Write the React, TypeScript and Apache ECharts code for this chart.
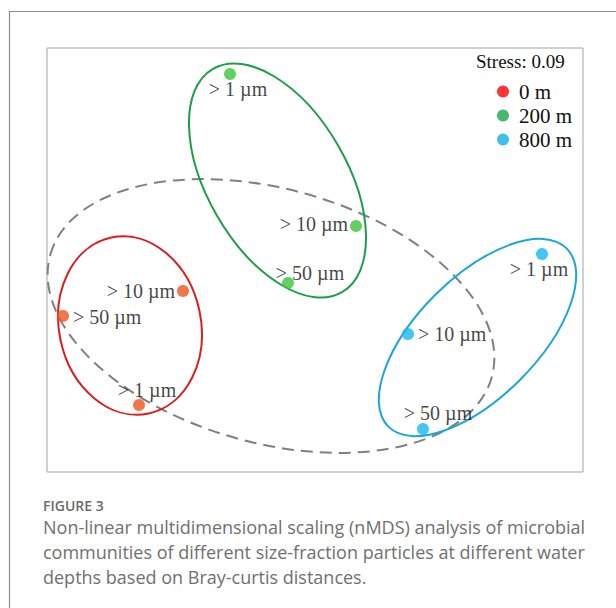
import React, { useEffect, useRef } from "react";
import * as echarts from "echarts";

const SIZE_LABELS = ["> 1 µm", "> 10 µm", "> 50 µm"];
const DEPTHS = ["0 m", "200 m", "800 m"];
// nMDS coordinates [NMDS1, NMDS2] for > 1, > 10, > 50 µm
const DEPTH_0M = [[-0.88, -0.725], [-0.66, -0.155], [-1.26, -0.28]];
const DEPTH_200M = [[-0.425, 0.93], [0.205, 0.17], [-0.135, -0.115]];
const DEPTH_800M = [[1.135, 0.03], [0.465, -0.37], [0.54, -0.845]];
// ellipses: [centerX, centerY, semiMajor, semiMinor, angleDeg]
const ELLIPSE_0M = [-0.925, -0.3275, 0.45, 0.355, -78];
const ELLIPSE_200M = [-0.1875, 0.3975, 0.645, 0.35, -60];
const ELLIPSE_800M = [0.8125, -0.3875, 0.63, 0.3, 45];
const ELLIPSE_ALL = [-0.22, -0.28, 1.145, 0.635, -15.5];
const STRESS = "Stress: 0.09";
const CAPTION_TITLE = "FIGURE 3";
const CAPTION_LINES = [
  "Non-linear multidimensional scaling (nMDS) analysis of microbial",
  "communities of different size-fraction particles at different water",
  "depths based on Bray-curtis distances.",
];

const SERIF = "'Liberation Serif', 'Times New Roman', serif";
const LEGEND_COLORS = ["#ff0000", "#1aa64e", "#12aee8"];
const DOT_COLORS = ["#f0521e", "#3cc43c", "#16b6ee"];
const ELLIPSE_COLORS = ["#d91f1f", "#1e9e4a", "#1ba6da"];

type LabelPos = { position: string; offset?: number[]; distance?: number };
const LABEL_POS: LabelPos[][] = [
  [
    { position: "top", offset: [8, 0], distance: -1 },
    { position: "left", distance: 2, offset: [0, 0] },
    { position: "right", distance: 4, offset: [0, 1] },
  ],
  [
    { position: "bottom", offset: [8, 0], distance: -1 },
    { position: "left", distance: 2, offset: [0, -2] },
    { position: "top", offset: [22, 0], distance: -6 },
  ],
  [
    { position: "bottom", offset: [-3, 0], distance: -1 },
    { position: "right", distance: 4, offset: [0, 0] },
    { position: "top", offset: [15, 0], distance: 0 },
  ],
];

export default function App() {
  const ref = useRef<HTMLDivElement>(null);
  useEffect(() => {
    if (!ref.current) return;
    const chart = echarts.init(ref.current, null, { renderer: "svg" });
    const groups = [DEPTH_0M, DEPTH_200M, DEPTH_800M];
    const ellipses = [ELLIPSE_0M, ELLIPSE_200M, ELLIPSE_800M];

    const ellipseSeries = (e: number[], color: string, dashed: boolean) => ({
      type: "custom",
      silent: true,
      z: 1,
      data: [e],
      renderItem: (_p: any, api: any) => {
        const c = api.coord([api.value(0), api.value(1)]);
        const s = api.size([api.value(2), api.value(3)]);
        return {
          type: "ellipse",
          x: c[0],
          y: c[1],
          rotation: (api.value(4) * Math.PI) / 180,
          shape: { cx: 0, cy: 0, rx: s[0], ry: s[1] },
          style: {
            fill: "none",
            stroke: color,
            lineWidth: 2,
            lineDash: dashed ? [12, 7] : null,
          },
        };
      },
    });

    const series: any[] = [ellipseSeries(ELLIPSE_ALL, "#808080", true)];
    ellipses.forEach((e, i) => series.push(ellipseSeries(e, ELLIPSE_COLORS[i], false)));
    groups.forEach((g, i) => {
      series.push({
        type: "scatter",
        name: DEPTHS[i],
        z: 3,
        symbolSize: 12,
        itemStyle: { color: LEGEND_COLORS[i] },
        data: g.map((v, j) => ({
          value: v,
          name: SIZE_LABELS[j],
          itemStyle: { color: DOT_COLORS[i] },
          label: {
            show: true,
            formatter: SIZE_LABELS[j],
            position: LABEL_POS[i][j].position,
            offset: LABEL_POS[i][j].offset || [0, 0],
            distance: LABEL_POS[i][j].distance ?? 5,
            fontFamily: SERIF,
            fontSize: 20,
            color: "#111",
          },
        })),
      });
    });

    chart.setOption({
      animation: false,
      backgroundColor: "#fff",
      grid: {
        left: 47,
        top: 48,
        width: 536,
        height: 424,
        show: true,
        borderColor: "#a3a3a3",
        borderWidth: 1,
        backgroundColor: "transparent",
      },
      xAxis: { type: "value", min: -1.34, max: 1.34, show: false },
      yAxis: { type: "value", min: -1.06, max: 1.06, show: false },
      title: {
        text: STRESS,
        left: 476,
        top: 52,
        padding: 0,
        textStyle: { fontFamily: SERIF, fontSize: 19, fontWeight: "normal", color: "#111" },
      },
      legend: {
        data: DEPTHS,
        orient: "vertical",
        left: 497,
        top: 81,
        padding: 0,
        icon: "circle",
        itemWidth: 12,
        itemHeight: 12,
        itemGap: 3,
        align: "left",
        textStyle: { fontFamily: SERIF, fontSize: 21, color: "#111", padding: [0, 0, 0, 5], lineHeight: 21 },
        selectedMode: false,
      },
      graphic: [
        {
          type: "polyline",
          shape: { points: [[9.5, 608], [9.5, 11.5], [616, 11.5]] },
          style: { stroke: "#8c8c8c", lineWidth: 1.2, fill: "none" },
          silent: true,
        },
        {
          type: "text",
          left: 43,
          top: 498,
          style: {
            text: CAPTION_TITLE,
            fontFamily: "'Open Sans', sans-serif",
            fontSize: 14,
            fontWeight: 600,
            fill: "#6b6b6b",
          },
        },
        ...CAPTION_LINES.map((t, i) => ({
          type: "text",
          left: 43,
          top: 518 + i * 25,
          style: {
            text: t,
            fontFamily: "'Open Sans', sans-serif",
            fontSize: 18,
            fill: "#707070",
          },
        })),
      ],
      series,
    });
    return () => chart.dispose();
  }, []);
  return (
    <div
      ref={ref}
      style={{ position: "fixed", left: 0, top: 0, width: 616, height: 608 }}
    />
  );
}
